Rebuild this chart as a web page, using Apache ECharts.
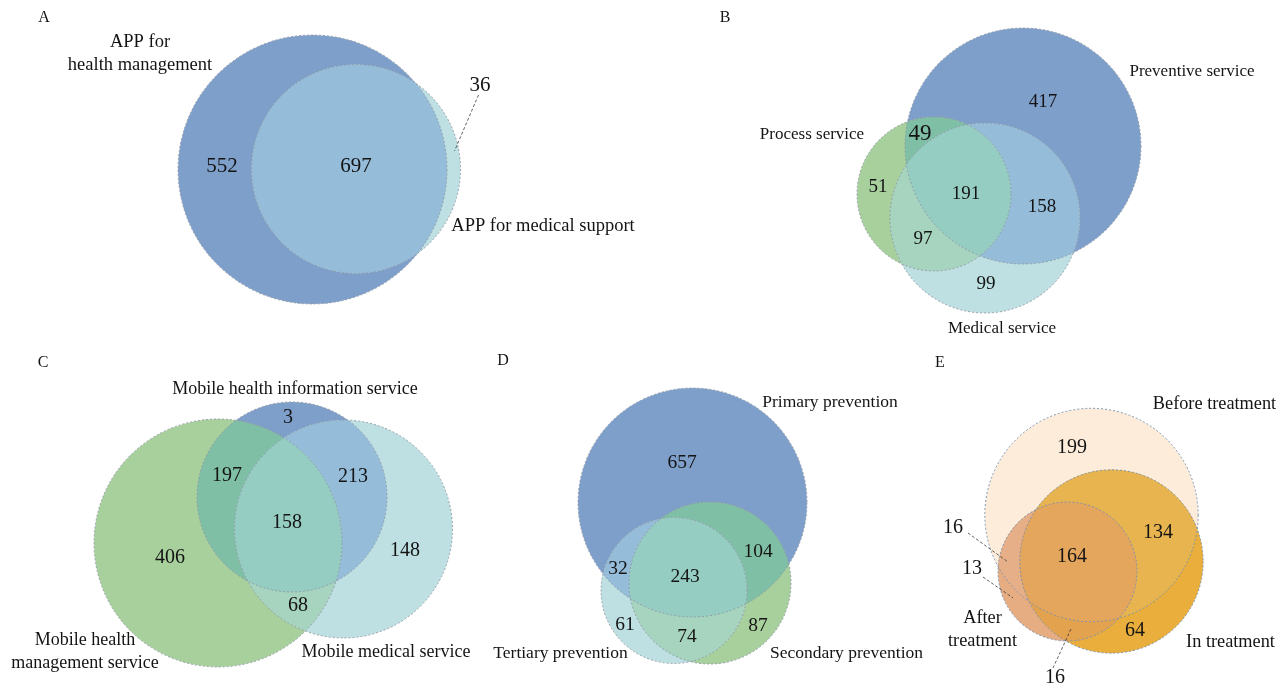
<!DOCTYPE html>
<html>
<head>
<meta charset="utf-8">
<title>Venn diagrams of mobile health apps</title>
<script src="https://cdn.jsdelivr.net/npm/echarts@6/dist/echarts.min.js"></script>
<style>
  html, body { margin: 0; padding: 0; background: #ffffff; }
  #chart { width: 1287px; height: 688px; }
</style>
</head>
<body>
<div id="chart"></div>
<script>
// ---------------- data ----------------
// Region keys: indices of the sets a region belongs to.
const keys2 = ['0', '1', '01'];
const keys3 = ['0', '1', '2', '01', '02', '12', '012'];

const setsA = ['APP for\nhealth management', 'APP for medical support'];
const countsA = [552, 36, 697];

const setsB = ['Preventive service', 'Process service', 'Medical service'];
const countsB = [417, 51, 99, 49, 158, 97, 191];

const setsC = ['Mobile health information service', 'Mobile health\nmanagement service', 'Mobile medical service'];
const countsC = [3, 406, 148, 197, 213, 68, 158];

const setsD = ['Primary prevention', 'Secondary prevention', 'Tertiary prevention'];
const countsD = [657, 87, 61, 104, 32, 74, 243];

const setsE = ['Before treatment', 'In treatment', 'After\ntreatment'];
const countsE = [199, 64, 13, 134, 16, 16, 164];

const panelLetters = ['A', 'B', 'C', 'D', 'E'];

// ---------------- styling & layout ----------------
const W = 1287, H = 688;
const FONT = '"Liberation Serif", "Times New Roman", serif';

const cool = {
  '0': '#7f9fcb', '1': '#a8d09d', '2': '#bfe0e3',
  '01': '#7fbfa6', '02': '#95bdda', '12': '#a7d4bf', '012': '#95cdc3'
};
const coolPair = { '0': '#7f9fcb', '1': '#bfe0e3', '01': '#95bdda' };
const warm = {
  '0': '#fcecd9', '1': '#e9ae3c', '2': '#e6ad82',
  '01': '#e8b450', '02': '#e7af87', '12': '#e3a24e', '012': '#e4a65c'
};

// circles: [cx, cy, r] in axis units (axes span the whole canvas)
const panels = [
  {
    letter: [44, 18], sets: setsA, keys: keys2, counts: countsA, colors: coolPair,
    outline: '#8e98a4', numSize: 21, setSize: 18.5,
    circles: [[312.5, 169.5, 134.5], [356, 169, 104.5]],
    numPos: { '0': [222, 166], '1': [480, 85], '01': [356, 166] },
    setPos: [[140, 54], [543, 226]],
    leaders: [[[478.5, 95], [454.5, 151]]]
  },
  {
    letter: [725, 18], sets: setsB, keys: keys3, counts: countsB, colors: cool,
    outline: '#8e98a4', numSize: 19, setSize: 17, numSizeOverride: { '01': 23 },
    circles: [[1023, 146, 118], [934, 194, 77], [985, 218, 95]],
    numPos: { '0': [1043, 102], '1': [878, 187], '2': [986, 284], '01': [920, 134], '02': [1042, 207], '12': [923, 239], '012': [966, 194] },
    setPos: [[1192, 72], [812, 135], [1002, 329]],
    leaders: []
  },
  {
    letter: [43, 363], sets: setsC, keys: keys3, counts: countsC, colors: cool,
    outline: '#8e98a4', numSize: 20, setSize: 18,
    circles: [[292, 497, 95], [218, 543, 124], [343.5, 529, 109]],
    numPos: { '0': [288, 418], '1': [170, 558], '2': [405, 551], '01': [227, 476], '02': [353, 477], '12': [298, 606], '012': [287, 523] },
    setPos: [[295, 389], [85, 652], [386, 652]],
    leaders: []
  },
  {
    letter: [503, 361], sets: setsD, keys: keys3, counts: countsD, colors: cool,
    outline: '#8e98a4', numSize: 19.5, setSize: 17.5,
    circles: [[692.5, 502.5, 114.5], [710, 583, 81], [674, 590.5, 73]],
    numPos: { '0': [682, 463], '1': [758, 626], '2': [625, 625], '01': [758, 552], '02': [618, 569], '12': [687, 637], '012': [685, 577] },
    setPos: [[830, 402], [846.5, 653], [560.5, 653]],
    leaders: []
  },
  {
    letter: [940, 363], sets: setsE, keys: keys3, counts: countsE, colors: warm,
    outline: '#7290b3', numSize: 20, setSize: 18.3,
    circles: [[1091.5, 515, 106.7], [1111.5, 561.5, 91.7], [1067.5, 571.5, 69.5]],
    numPos: { '0': [1072, 448], '1': [1135, 631], '2': [972, 569], '01': [1158, 533], '02': [953, 528], '12': [1055, 678], '012': [1072, 557] },
    setPos: [[1214.5, 404], [1230.5, 642], [982.5, 630]],
    leaders: [[[968, 533], [1008, 562]], [[983, 577], [1013, 598]], [[1071, 629], [1053, 668]]]
  }
];

// ---------------- circle geometry ----------------
const TAU = Math.PI * 2;

function intersect(a, b) {
  const dx = b.x - a.x, dy = b.y - a.y, d = Math.hypot(dx, dy);
  if (d === 0 || d > a.r + b.r || d < Math.abs(a.r - b.r)) return null;
  const l = (a.r * a.r - b.r * b.r + d * d) / (2 * d);
  const h = Math.sqrt(Math.max(0, a.r * a.r - l * l));
  const mx = a.x + dx * l / d, my = a.y + dy * l / d;
  return [[mx + h * dy / d, my - h * dx / d], [mx - h * dy / d, my + h * dx / d]];
}

function isInside(p, c) {
  return Math.hypot(p[0] - c.x, p[1] - c.y) < c.r;
}

// Sampled arc of circle c from P to Q, taking the side lying inside all `others`.
function arc(c, P, Q, others) {
  const a0 = Math.atan2(P[1] - c.y, P[0] - c.x);
  const a1 = Math.atan2(Q[1] - c.y, Q[0] - c.x);
  let d = ((a1 - a0) % TAU + TAU) % TAU;
  const mid = a0 + d / 2;
  const mp = [c.x + c.r * Math.cos(mid), c.y + c.r * Math.sin(mid)];
  if (!others.every(o => isInside(mp, o))) d = d - TAU;
  const n = Math.max(12, Math.ceil(Math.abs(d) * c.r / 1.5));
  const pts = [];
  for (let k = 0; k <= n; k++) {
    const t = a0 + d * k / n;
    pts.push([c.x + c.r * Math.cos(t), c.y + c.r * Math.sin(t)]);
  }
  return pts;
}

function lens(a, b) {
  const ps = intersect(a, b);
  if (!ps) return null;
  return arc(a, ps[0], ps[1], [b]).concat(arc(b, ps[1], ps[0], [a]));
}

function tripleRegion(cs) {
  const v = {};
  const order = [[0, 1, 2], [1, 2, 0], [2, 0, 1]];
  for (const [i, j, k] of order) {
    const ps = intersect(cs[i], cs[j]);
    if (!ps) return null;
    const inK = ps.filter(p => isInside(p, cs[k]));
    if (inK.length !== 1) return null;
    v['' + i + j] = inK[0];
  }
  return [].concat(
    arc(cs[1], v['01'], v['12'], [cs[0], cs[2]]),
    arc(cs[2], v['12'], v['20'], [cs[0], cs[1]]),
    arc(cs[0], v['20'], v['01'], [cs[1], cs[2]])
  );
}

// ---------------- rendering ----------------
function textEl(x, y, text, size, extra) {
  return Object.assign({
    type: 'text', x: x, y: y, silent: true,
    style: {
      text: text, fill: '#141414', font: size + 'px ' + FONT,
      align: 'center', verticalAlign: 'middle',
      textAlign: 'center', textVerticalAlign: 'middle',
      lineHeight: Math.round(size * 1.25)
    }
  }, extra || {});
}

function renderPanel(p, api) {
  const cs = p.circles.map(c => {
    const pt = api.coord([c[0], c[1]]);
    const r = api.size([c[2], 0])[0];
    return { x: pt[0], y: pt[1], r: r };
  });
  const children = [];

  // single-set fills
  cs.forEach((c, i) => {
    children.push({ type: 'circle', shape: { cx: c.x, cy: c.y, r: c.r }, style: { fill: p.colors[String(i)] } });
  });
  // pairwise overlaps
  for (let i = 0; i < cs.length; i++) {
    for (let j = i + 1; j < cs.length; j++) {
      const poly = lens(cs[i], cs[j]);
      if (poly) children.push({ type: 'polygon', shape: { points: poly }, style: { fill: p.colors['' + i + j] } });
    }
  }
  // common core of three sets
  if (cs.length === 3) {
    const poly = tripleRegion(cs);
    if (poly) children.push({ type: 'polygon', shape: { points: poly }, style: { fill: p.colors['012'] } });
  }
  // dashed outlines
  cs.forEach(c => {
    children.push({
      type: 'circle', shape: { cx: c.x, cy: c.y, r: c.r },
      style: { fill: null, stroke: p.outline, lineWidth: 0.9, lineDash: [2, 2] }
    });
  });
  // leader lines for small regions
  p.leaders.forEach(seg => {
    const a = api.coord(seg[0]), b = api.coord(seg[1]);
    children.push({
      type: 'line', shape: { x1: a[0], y1: a[1], x2: b[0], y2: b[1] },
      style: { stroke: '#3a3a3a', lineWidth: 0.8, lineDash: [3, 2] }
    });
  });
  // region counts
  p.keys.forEach((k, idx) => {
    const pos = api.coord(p.numPos[k]);
    const size = (p.numSizeOverride && p.numSizeOverride[k]) || p.numSize;
    children.push(textEl(pos[0], pos[1], String(p.counts[idx]), size));
  });
  // set names
  p.sets.forEach((name, i) => {
    const pos = api.coord(p.setPos[i]);
    children.push(textEl(pos[0], pos[1], name, p.setSize, null));
  });
  // panel letter
  const lp = api.coord(p.letter);
  children.push(textEl(lp[0], lp[1], p.letterText, 16));

  return { type: 'group', children: children };
}

panels.forEach((p, i) => { p.letterText = panelLetters[i]; });

const chart = echarts.init(document.getElementById('chart'), null, { renderer: 'canvas', width: W, height: H });

chart.setOption({
  animation: false,
  backgroundColor: '#ffffff',
  grid: { left: 0, top: 0, width: W, height: H },
  xAxis: { type: 'value', min: 0, max: W, show: false },
  yAxis: { type: 'value', min: 0, max: H, inverse: true, show: false },
  series: panels.map((p, i) => ({
    type: 'custom',
    name: panelLetters[i],
    coordinateSystem: 'cartesian2d',
    silent: true,
    clip: false,
    data: [[0, 0]],
    renderItem: (params, api) => renderPanel(p, api)
  }))
});
</script>
</body>
</html>
